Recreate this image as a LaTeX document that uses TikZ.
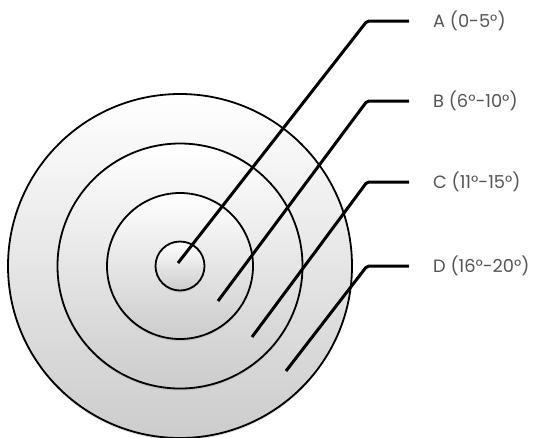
\documentclass[tikz,border=0pt]{standalone}
\usepackage{fontspec}
\setmainfont{Poppins}
\usetikzlibrary{shadows}
\definecolor{labgray}{HTML}{555555}
\begin{document}
\begin{tikzpicture}[x=1pt,y=-1pt,
  ring/.style={circle,draw=black,line width=1.8pt,inner sep=0pt,
    top color=white,bottom color=black!20,
    drop shadow={opacity=0.25,shadow xshift=0pt,shadow yshift=-2pt}},
  leader/.style={line width=3pt,rounded corners=2pt},
  lab/.style={anchor=west,inner xsep=24pt,inner ysep=0pt,text=labgray,
    font=\fontsize{17.8}{21}\selectfont}]
\useasboundingbox[fill=white] (0,0) rectangle (534,437);
\node[ring,minimum size=344pt] (d) at (180,266) {};
\node[ring,minimum size=245pt] (c) at (180,266) {};
\node[ring,minimum size=146pt] (b) at (180,266) {};
\node[ring,minimum size=49pt] (a) at (180,266) {};
\coordinate (pA) at (178,263);
\coordinate (pB) at (218,301);
\coordinate (pC) at (252,337);
\coordinate (pD) at (286,371);
\coordinate (kA) at (367,21);
\coordinate (kB) at (367,101);
\coordinate (kC) at (367,182);
\coordinate (kD) at (367,266);
\node[lab] (lA) at (409,21) {A (0-5°)};
\node[lab] (lB) at (409,101) {B (6°-10°)};
\node[lab] (lC) at (409,182) {C (11°-15°)};
\node[lab] (lD) at (409,266) {D (16°-20°)};
\draw[leader] (pA) -- (kA) -- (lA.west);
\draw[leader] (pB) -- (kB) -- (lB.west);
\draw[leader] (pC) -- (kC) -- (lC.west);
\draw[leader] (pD) -- (kD) -- (lD.west);
\end{tikzpicture}
\end{document}
